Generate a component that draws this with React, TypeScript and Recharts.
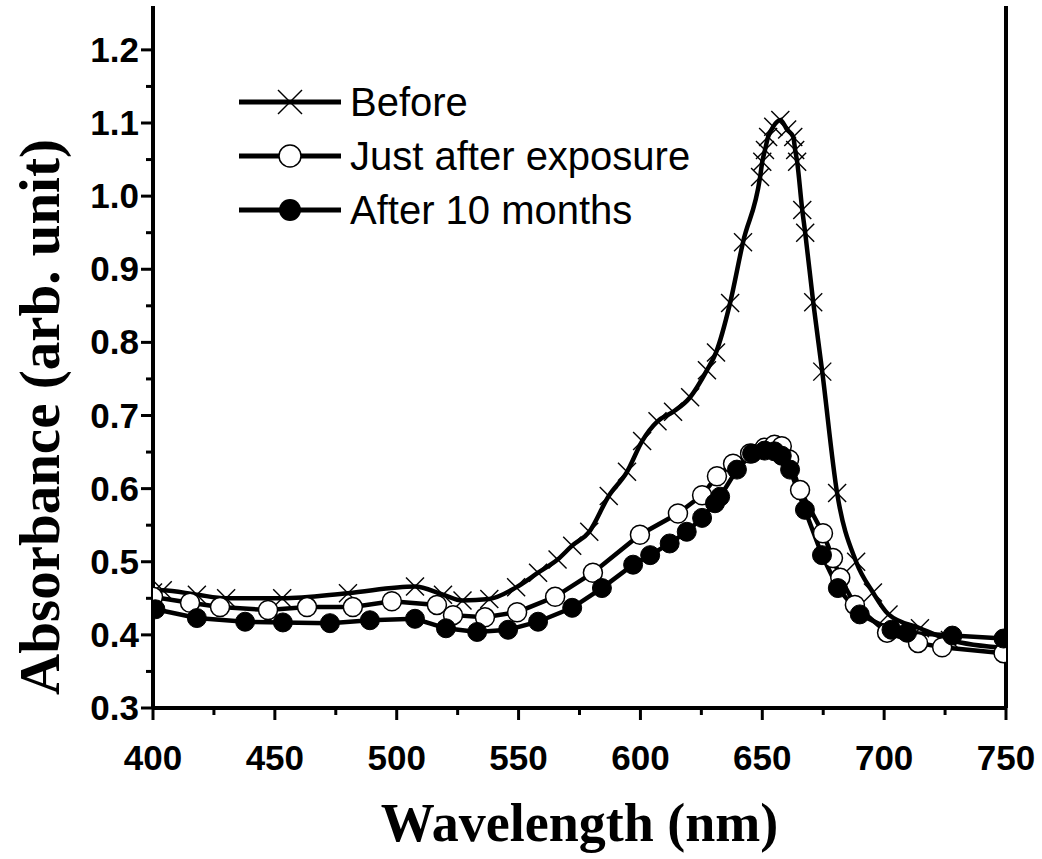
import React from "react";
import { LineChart, Line, XAxis, YAxis, ReferenceLine, Label } from "recharts";

// wavelength (nm) / absorbance
const beforeNm = [400, 404, 418, 430, 453, 480, 507.5, 519, 527, 538, 549, 558, 566, 572, 579, 587, 594.5, 600.7, 607, 613.4, 620.4, 627.3, 631, 636.8, 642.1, 649.1, 650, 651.1, 652.4, 654.5, 657.4, 660.2, 662.7, 663.5, 664.3, 666.4, 667.6, 670.9, 674.6, 680.7, 688.5, 695.4, 701.8, 714.7, 727, 750];
const beforeAbs = [0.458, 0.461, 0.455, 0.45, 0.45, 0.457, 0.466, 0.455, 0.447, 0.449, 0.465, 0.485, 0.503, 0.522, 0.541, 0.59, 0.623, 0.665, 0.692, 0.705, 0.725, 0.762, 0.786, 0.854, 0.937, 1.026, 1.047, 1.063, 1.081, 1.095, 1.104, 1.091, 1.081, 1.063, 1.047, 0.981, 0.95, 0.855, 0.76, 0.594, 0.5, 0.458, 0.428, 0.409, 0.393, 0.382];

const justNm = [400, 415.2, 427.5, 447.2, 463.2, 482, 498, 516.5, 523.1, 536.2, 549.4, 565, 580.5, 599.8, 615.4, 625.3, 631.4, 638, 645, 651, 655, 658, 661, 665.5, 674.9, 679, 682, 688, 701.2, 713.9, 723.8, 749];
const justAbs = [0.452, 0.444, 0.438, 0.434, 0.438, 0.438, 0.446, 0.441, 0.427, 0.424, 0.431, 0.452, 0.485, 0.537, 0.566, 0.591, 0.617, 0.634, 0.648, 0.656, 0.66, 0.658, 0.64, 0.598, 0.539, 0.505, 0.478, 0.441, 0.403, 0.389, 0.383, 0.375];

const monthsNm = [401, 418, 437.8, 453.3, 472.6, 489, 507.5, 520.2, 533, 545.7, 558, 572, 584.2, 597, 604, 612, 619, 625.3, 630.6, 632.7, 639.6, 645.8, 651, 655, 658, 661.4, 667.5, 674.5, 681, 690, 703, 709.4, 728, 749];
const monthsAbs = [0.435, 0.423, 0.418, 0.417, 0.416, 0.42, 0.422, 0.409, 0.404, 0.407, 0.418, 0.437, 0.464, 0.496, 0.509, 0.525, 0.541, 0.56, 0.58, 0.589, 0.626, 0.648, 0.652, 0.651, 0.645, 0.626, 0.571, 0.509, 0.464, 0.428, 0.407, 0.403, 0.399, 0.395];

const xTicks = [400, 425, 450, 475, 500, 525, 550, 575, 600, 625, 650, 675, 700, 725, 750];
const yTicks = [0.3, 0.35, 0.4, 0.45, 0.5, 0.55, 0.6, 0.65, 0.7, 0.75, 0.8, 0.85, 0.9, 0.95, 1.0, 1.05, 1.1, 1.15, 1.2];

const seriesNames = ["Before", "Just after exposure", "After 10 months"];

const toPoints = (xs: number[], ys: number[]) => xs.map((x, i) => ({ x, y: ys[i] }));
const before = toPoints(beforeNm, beforeAbs);
const just = toPoints(justNm, justAbs);
const months = toPoints(monthsNm, monthsAbs);

const tickFont = { fontFamily: "'Liberation Sans', Arial, sans-serif", fontWeight: 700, fontSize: 35 };
const titleFont = { fontFamily: "'Liberation Serif', 'Times New Roman', serif", fontWeight: 700, fontSize: 54 };

const XTick = (props: any) => {
  const { x, y, payload } = props;
  const major = payload.value % 50 === 0;
  return (
    <g>
      <line x1={x} x2={x} y1={y} y2={y + (major ? 12 : 7)} stroke="#000" strokeWidth={3} />
      {major && (
        <text x={x} y={y + 62} textAnchor="middle" fill="#000" style={tickFont}>
          {payload.value}
        </text>
      )}
    </g>
  );
};

const YTick = (props: any) => {
  const { x, y, payload } = props;
  const major = Math.round(payload.value * 100) % 10 === 0;
  return (
    <g>
      <line x1={x} x2={x - (major ? 12 : 7)} y1={y} y2={y} stroke="#000" strokeWidth={3} />
      {major && (
        <text x={x - 14} y={y + 12} textAnchor="end" fill="#000" style={tickFont}>
          {payload.value.toFixed(1)}
        </text>
      )}
    </g>
  );
};

const CrossDot = (props: any) => {
  const { cx, cy, index } = props;
  if (cx == null || cy == null) return <g key={index} />;
  const s = 9;
  return (
    <g key={index}>
      <line x1={cx - s} y1={cy - s} x2={cx + s} y2={cy + s} stroke="#000" strokeWidth={1.4} />
      <line x1={cx - s} y1={cy + s} x2={cx + s} y2={cy - s} stroke="#000" strokeWidth={1.4} />
    </g>
  );
};

const LegendBox = () => (
  <div style={{ position: "absolute", left: 237, top: 75, display: "flex", flexDirection: "column" }}>
    {seriesNames.map((name, i) => (
      <div key={name} style={{ display: "flex", alignItems: "center", height: 54 }}>
        <svg width={106} height={40}>
          <line x1={2} x2={104} y1={20} y2={20} stroke="#000" strokeWidth={5} />
          {i === 0 && (
            <g>
              <line x1={41} y1={8} x2={65} y2={32} stroke="#000" strokeWidth={1.5} />
              <line x1={41} y1={32} x2={65} y2={8} stroke="#000" strokeWidth={1.5} />
            </g>
          )}
          {i === 1 && <circle cx={53} cy={20} r={11} fill="#fff" stroke="#000" strokeWidth={1.5} />}
          {i === 2 && <circle cx={53} cy={20} r={11} fill="#000" />}
        </svg>
        <span style={{ fontFamily: "'Liberation Sans', Arial, sans-serif", fontSize: 40, marginLeft: 7, lineHeight: 1 }}>
          {name}
        </span>
      </div>
    ))}
  </div>
);

export default function App() {
  return (
    <div style={{ position: "absolute", left: 0, top: 0, width: 1042, height: 859, background: "#fff" }}>
      <LineChart width={1042} height={859} margin={{ top: 6, right: 36, bottom: 0, left: 0 }}>
        <XAxis
          type="number"
          dataKey="x"
          domain={[400, 750]}
          ticks={xTicks}
          interval={0}
          allowDataOverflow
          height={151}
          tickLine={false}
          tickSize={0}
          tickMargin={0}
          tick={<XTick />}
          axisLine={{ stroke: "#000", strokeWidth: 4 }}
        >
          <Label
            content={(p: any) => {
              const vb = p.viewBox;
              return (
                <text x={vb.x + vb.width / 2} y={vb.y + 133} textAnchor="middle" fill="#000" style={titleFont}>
                  Wavelength (nm)
                </text>
              );
            }}
          />
        </XAxis>
        <YAxis
          type="number"
          domain={[0.3, 1.26]}
          ticks={yTicks}
          interval={0}
          allowDataOverflow
          width={153}
          tickLine={false}
          tickSize={0}
          tickMargin={0}
          tick={<YTick />}
          axisLine={{ stroke: "#000", strokeWidth: 4 }}
        >
          <Label
            content={(p: any) => {
              const vb = p.viewBox;
              const cx = vb.x + 39;
              const cy = 417;
              return (
                <text
                  x={cx}
                  y={cy}
                  textAnchor="middle"
                  dominantBaseline="central"
                  transform={`rotate(-90 ${cx} ${cy})`}
                  fill="#000"
                  style={{ ...titleFont, fontSize: 57 }}
                >
                  Absorbance (arb. unit)
                </text>
              );
            }}
          />
        </YAxis>
        <ReferenceLine x={750} stroke="#000" strokeWidth={4} ifOverflow="visible" />
        <Line
          data={before}
          dataKey="y"
          name={seriesNames[0]}
          type="monotone"
          stroke="#000"
          strokeWidth={4.5}
          dot={<CrossDot />}
          isAnimationActive={false}
        />
        <Line
          data={just}
          dataKey="y"
          name={seriesNames[1]}
          type="linear"
          stroke="#000"
          strokeWidth={4.5}
          dot={{ r: 9.5, fill: "#fff", stroke: "#000", strokeWidth: 1.5 }}
          isAnimationActive={false}
        />
        <Line
          data={months}
          dataKey="y"
          name={seriesNames[2]}
          type="linear"
          stroke="#000"
          strokeWidth={4.5}
          dot={{ r: 9.5, fill: "#000", stroke: "#000", strokeWidth: 1 }}
          isAnimationActive={false}
        />
      </LineChart>
      <LegendBox />
    </div>
  );
}
